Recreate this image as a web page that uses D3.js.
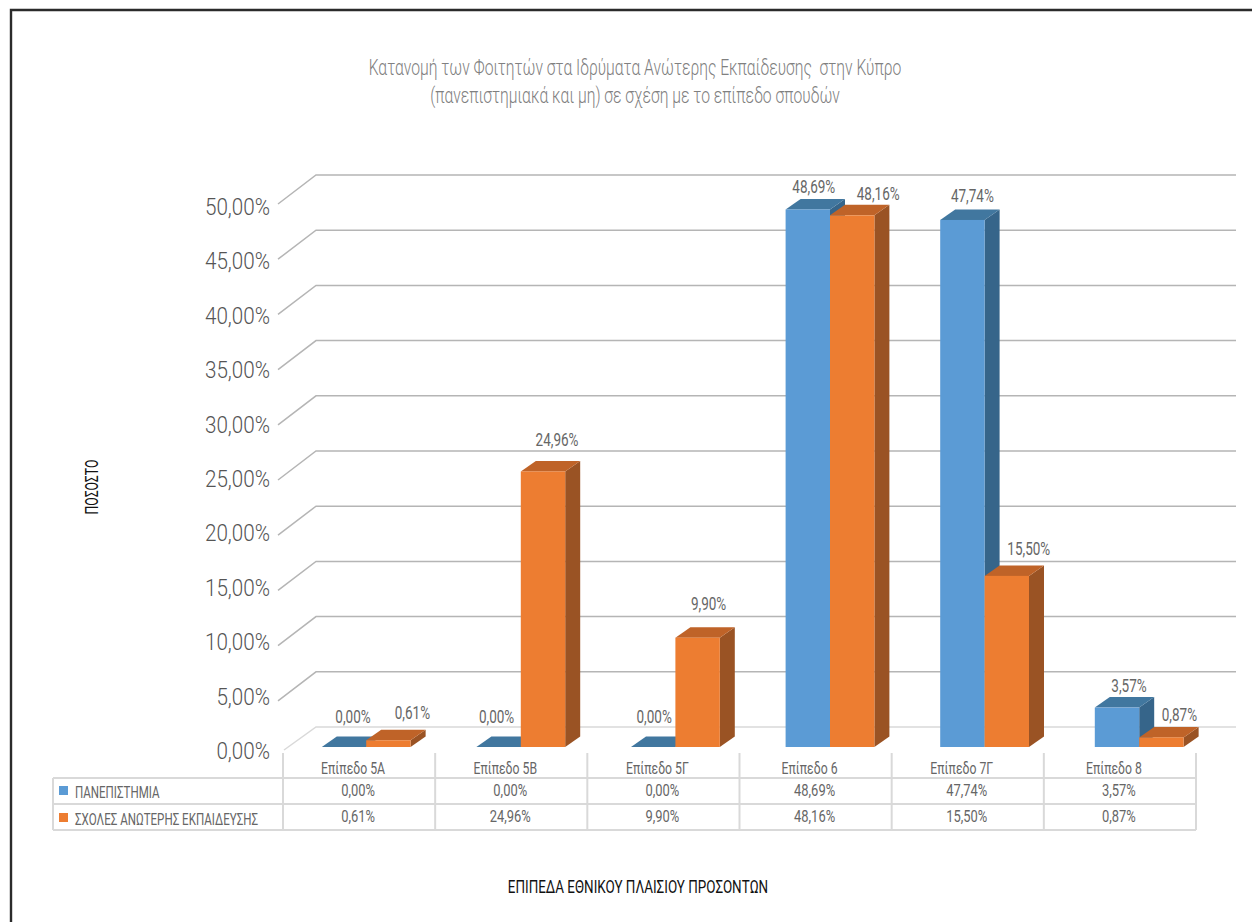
<!DOCTYPE html>
<html><head><meta charset="utf-8">
<script src="https://cdn.jsdelivr.net/npm/d3@7"></script>
<style>
html,body{margin:0;padding:0;background:#fff}
svg{display:block}
text{font-family:"Roboto","Liberation Sans Narrow",sans-serif;white-space:pre}
</style></head><body>
<svg id="c" width="1252" height="922"></svg>
<script>
const categories=["Επίπεδο 5Α","Επίπεδο 5Β","Επίπεδο 5Γ","Επίπεδο 6","Επίπεδο 7Γ","Επίπεδο 8"];
const seriesNames=["ΠΑΝΕΠΙΣΤΗΜΙΑ","ΣΧΟΛΕΣ ΑΝΩΤΕΡΗΣ ΕΚΠΑΙΔΕΥΣΗΣ"];
const universities=[0,0,0,48.69,47.74,3.57];
const colleges=[0.61,24.96,9.90,48.16,15.50,0.87];
const yTicks=[0,5,10,15,20,25,30,35,40,45,50];
const titleLines=["Κατανομή των Φοιτητών στα Ιδρύματα Ανώτερης Εκπαίδευσης  στην Κύπρο","(πανεπιστημιακά και μη) σε σχέση με το επίπεδο σπουδών"];
const xTitle="ΕΠΙΠΕΔΑ ΕΘΝΙΚΟΥ ΠΛΑΙΣΙΟΥ ΠΡΟΣΟΝΤΩΝ";
const yTitle="ΠΟΣΟΣΤΟ";

// Hand-placed data label nudges, relative to each bar's top-centre
const nudgeU=[[9,-30],[-2,-30],[1,-30],[6,-22],[10,-24],[12,-22]];
const nudgeC=[[24,-27],[14,-31],[11,-34],[26,-21],[22,-27],[18,-22]];

const svg=d3.select("#c");
const fmt=v=>v.toFixed(2).replace(".",",")+"%";
// the reference face is a condensed one: squeeze the installed face to that width
const squeeze=(sel,k)=>sel.each(function(){
  this.setAttribute("lengthAdjust","spacingAndGlyphs");
  this.setAttribute("textLength",this.getComputedTextLength()*k);
});
const colors=[{front:"#5b9bd5",side:"#36658a",top:"#41779f"},{front:"#ed7d31",side:"#9a5324",top:"#bf6328"}];

const y=d3.scaleLinear().domain([0,50]).range([747,195]);   // front plane of the bars
const yLabel=d3.scaleLinear().domain([0,50]).range([749,205]); // tick label centres
const x0=d3.scaleBand().domain(categories).range([288.9,1216.5]);
const x1=d3.scaleBand().domain([0,1]).range([x0.bandwidth()/2-44.4,x0.bandwidth()/2+44.4]);
const DX=15,DY=-10.5;         // bar depth
const wallY=v=>y(v)-20;       // back wall

// frame
svg.append("path").attr("d","M11,922V10H1252").attr("fill","none").attr("stroke","#2b2b2b").attr("stroke-width",2.4);

// title
svg.append("g").selectAll("text").data(titleLines).join("text")
  .attr("x",635).attr("y",(d,i)=>75+i*28).attr("text-anchor","middle")
  .attr("font-size",22).attr("font-weight",300).attr("fill","#808080").text(d=>d).call(squeeze,.712);

// gridlines
svg.append("g").selectAll("path").data(yTicks).join("path")
  .attr("d",d=>d===0?`M284,${wallY(d)+23}L316,${wallY(d)}H1236`:`M278,${wallY(d)+29}L316,${wallY(d)}H1236`)
  .attr("fill","none").attr("stroke",d=>d===0?"#d9d9d9":"#b5b5b5").attr("stroke-width",1.5);

// y tick labels
svg.append("g").selectAll("text").data(yTicks).join("text")
  .attr("x",270).attr("y",d=>yLabel(d)+10).attr("text-anchor","end")
  .attr("font-size",24).attr("font-weight",300).attr("fill","#555").text(fmt).call(squeeze,.86);

// bars
const bars=[];
categories.forEach((c,i)=>{[universities,colleges].forEach((vals,s)=>bars.push({c,i,s,v:vals[i]}))});
const g=svg.append("g").selectAll("g").data(bars).join("g");
const bx=d=>x0(d.c)+x1(d.s), w=x1.bandwidth();
g.append("path").attr("fill",d=>colors[d.s].side)
  .attr("d",d=>{const X=bx(d)+w,t=y(d.v),b=y(0);return `M${X},${t}L${X+DX},${t+DY}V${b+DY}L${X},${b}Z`;});
g.append("path").attr("fill",d=>colors[d.s].top)
  .attr("d",d=>{const X=bx(d),t=y(d.v);return `M${X},${t}L${X+DX},${t+DY}H${X+w+DX}L${X+w},${t}Z`;});
g.append("rect").attr("fill",d=>colors[d.s].front)
  .attr("x",bx).attr("y",d=>y(d.v)).attr("width",w).attr("height",d=>y(0)-y(d.v));

// data labels
svg.append("g").selectAll("text").data(bars).join("text")
  .attr("x",d=>bx(d)+w/2+(d.s?nudgeC:nudgeU)[d.i][0])
  .attr("y",d=>y(d.v)+(d.s?nudgeC:nudgeU)[d.i][1]+6)
  .attr("text-anchor","middle").attr("font-size",18).attr("fill","#666").text(d=>fmt(d.v)).call(squeeze,.75);

// data table
const cols=d3.scaleBand().domain(categories).range([283,1196]);
const rows=[778,804,830];
const t=svg.append("g").attr("stroke","#d9d9d9").attr("stroke-width",2).attr("fill","none");
t.selectAll(".h").data(rows).join("line").attr("x1",53).attr("x2",1196).attr("y1",d=>d).attr("y2",d=>d);
t.append("line").attr("x1",53).attr("x2",53).attr("y1",778).attr("y2",830);
t.selectAll(".v").data([...categories.map(c=>cols(c)),1196]).join("line")
  .attr("x1",d=>d).attr("x2",d=>d).attr("y1",753).attr("y2",830);
const tt=svg.append("g").attr("font-size",17).attr("fill","#666").attr("text-anchor","middle");
tt.selectAll(".c").data(categories).join("text").attr("x",d=>cols(d)+cols.bandwidth()/2-6).attr("y",774).text(d=>d).call(squeeze,.72);
[universities,colleges].forEach((vals,s)=>{
  tt.selectAll(".r"+s).data(vals).join("text")
    .attr("x",(d,i)=>cols(categories[i])+cols.bandwidth()/2-1).attr("y",796+s*26).text(fmt).call(squeeze,.76);
});
seriesNames.forEach((n,s)=>{
  svg.append("rect").attr("x",59).attr("y",786+s*27).attr("width",9).attr("height",9).attr("fill",colors[s].front);
  svg.append("text").attr("x",75).attr("y",798+s*27).attr("font-size",17).attr("fill","#666").text(n).call(squeeze,.68);
});

// axis titles
svg.append("text").attr("x",638).attr("y",893).attr("text-anchor","middle").attr("font-size",18).attr("fill","#111").text(xTitle).call(squeeze,.745);
svg.append("text").attr("transform","translate(98,487) rotate(-90)").attr("text-anchor","middle").attr("font-size",18).attr("fill","#111").text(yTitle).call(squeeze,.68);
</script></body></html>
